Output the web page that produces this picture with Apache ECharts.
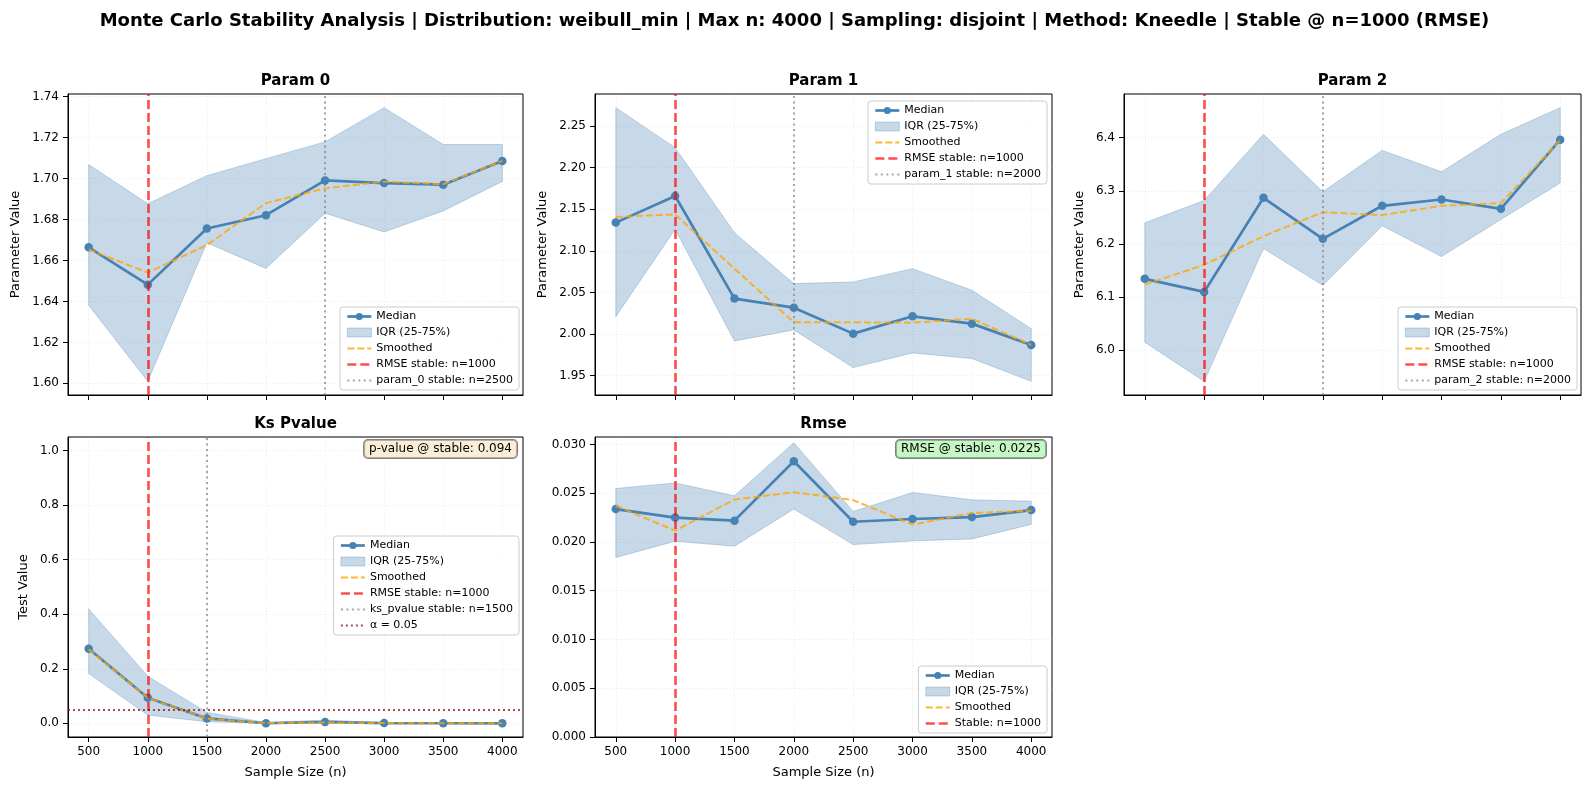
<!DOCTYPE html>
<html>
<head>
<meta charset="utf-8">
<title>Monte Carlo Stability Analysis</title>
<script src="https://cdn.jsdelivr.net/npm/echarts@6/dist/echarts.min.js"></script>
<style>
    html, body { margin: 0; padding: 0; background: #fff; }
    #chart { width: 1589px; height: 789px; }
</style>
</head>
<body>
<div id="chart"></div>
<script>
// x 轴
var sampleSizes = [500, 1000, 1500, 2000, 2500, 3000, 3500, 4000];
var xTicks = [500, 1000, 1500, 2000, 2500, 3000, 3500, 4000];

// Param 0
var p0Median = [1.6664, 1.6482, 1.6756, 1.6821, 1.6991, 1.6978, 1.6970, 1.7086];
var p0Smooth = [1.6654, 1.6541, 1.6675, 1.6880, 1.6952, 1.6985, 1.6973, 1.7086];
var p0Q1 = [1.6381, 1.6010, 1.6687, 1.6561, 1.6831, 1.6739, 1.6842, 1.6986];
var p0Q3 = [1.7068, 1.6877, 1.7014, 1.7097, 1.7179, 1.7346, 1.7166, 1.7166];
var p0Ticks = [1.60, 1.62, 1.64, 1.66, 1.68, 1.70, 1.72, 1.74];

// Param 1
var p1Median = [2.1339, 2.1659, 2.0426, 2.0317, 2.0005, 2.0213, 2.0125, 1.9869];
var p1Smooth = [2.1407, 2.1439, 2.0786, 2.0141, 2.0141, 2.0137, 2.0185, 1.9869];
var p1Q1 = [2.0209, 2.1259, 1.9917, 2.0049, 1.9597, 1.9773, 1.9705, 1.9432];
var p1Q3 = [2.2720, 2.2240, 2.1218, 2.0606, 2.0626, 2.0786, 2.0526, 2.0065];
var p1Ticks = [1.95, 2.00, 2.05, 2.10, 2.15, 2.20, 2.25];

// Param 2
var p2Median = [6.1340, 6.1094, 6.2868, 6.2094, 6.2717, 6.2836, 6.2660, 6.3962];
var p2Smooth = [6.1233, 6.1604, 6.2145, 6.2597, 6.2541, 6.2717, 6.2767, 6.3950];
var p2Q1 = [6.0145, 5.9409, 6.1912, 6.1220, 6.2340, 6.1761, 6.2459, 6.3145];
var p2Q3 = [6.2396, 6.2818, 6.4063, 6.2981, 6.3761, 6.3358, 6.4063, 6.4566];
var p2Ticks = [6.0, 6.1, 6.2, 6.3, 6.4];

// KS p-value
var ksMedian = [0.2737, 0.094, 0.0182, 0.0005, 0.0050, 0.0010, 0.0005, 0.0003];
var ksSmooth = [0.2713, 0.0937, 0.0172, 0.0012, 0.0030, 0.0010, 0.0004, 0.0003];
var ksQ1 = [0.1825, 0.0304, 0.0060, 0.0000, 0.0005, 0.0000, 0.0000, 0.0000];
var ksQ3 = [0.4197, 0.1727, 0.0401, 0.0036, 0.0120, 0.0024, 0.0012, 0.0010];
var ksTicks = [0.0, 0.2, 0.4, 0.6, 0.8, 1.0];

// RMSE
var rmseMedian = [0.02337, 0.0225, 0.02218, 0.02827, 0.02207, 0.02235, 0.02255, 0.02327];
var rmseSmooth = [0.02371, 0.02116, 0.02435, 0.02510, 0.02429, 0.02177, 0.02296, 0.02320];
var rmseQ1 = [0.01840, 0.02007, 0.01956, 0.02337, 0.01973, 0.02010, 0.02031, 0.02180];
var rmseQ3 = [0.02548, 0.02605, 0.02473, 0.03017, 0.02313, 0.02507, 0.02432, 0.02418];
var rmseTicks = [0.000, 0.005, 0.010, 0.015, 0.020, 0.025, 0.030];

// 稳定点
var rmseStable = 1000;
var paramStable = [2500, 2000, 2000];
var ksStable = 1500;
var alphaLevel = 0.05;

var FONT = 'DejaVu Sans';
var STEEL = '#4682b4';
var BAND = 'rgba(70,130,180,0.3)';
var NONE = 'rgba(0,0,0,0)';

var chart = echarts.init(document.getElementById('chart'));

function zip(xs, ys) {
    return xs.map(function (x, i) { return [x, ys[i]]; });
}

// matplotlib 风格的 5% 边距
function padRange(arrs) {
    var all = [].concat.apply([], arrs);
    var lo = Math.min.apply(null, all), hi = Math.max.apply(null, all);
    var m = (hi - lo) * 0.05;
    return [lo - m, hi + m];
}

var xMin = sampleSizes[0] - (sampleSizes[7] - sampleSizes[0]) * 0.05;
var xMax = sampleSizes[7] + (sampleSizes[7] - sampleSizes[0]) * 0.05;

var rmseTop = padRange([rmseMedian, rmseSmooth, rmseQ1, rmseQ3])[1];

var grids = [
    { left: 68, top: 94, width: 455, height: 301 },
    { left: 595, top: 94, width: 457, height: 301 },
    { left: 1124, top: 94, width: 457, height: 301 },
    { left: 68, top: 437, width: 455, height: 300 },
    { left: 595, top: 437, width: 457, height: 300 }
];

var panels = [
    {
        title: 'Param 0', median: p0Median, smooth: p0Smooth, q1: p0Q1, q3: p0Q3,
        ticks: p0Ticks, digits: 2, range: padRange([p0Median, p0Smooth, p0Q1, p0Q3]),
        yName: 'Parameter Value', nameGap: 46,
        rmseName: 'RMSE stable: n=' + rmseStable,
        stable: paramStable[0], stableName: 'param_0 stable: n=' + paramStable[0],
        legend: { right: 1070, bottom: 399 }
    },
    {
        title: 'Param 1', median: p1Median, smooth: p1Smooth, q1: p1Q1, q3: p1Q3,
        ticks: p1Ticks, digits: 2, range: padRange([p1Median, p1Smooth, p1Q1, p1Q3]),
        yName: 'Parameter Value', nameGap: 46,
        rmseName: 'RMSE stable: n=' + rmseStable,
        stable: paramStable[1], stableName: 'param_1 stable: n=' + paramStable[1],
        legend: { right: 542, top: 101 }
    },
    {
        title: 'Param 2', median: p2Median, smooth: p2Smooth, q1: p2Q1, q3: p2Q3,
        ticks: p2Ticks, digits: 1, range: padRange([p2Median, p2Smooth, p2Q1, p2Q3]),
        yName: 'Parameter Value', nameGap: 38,
        rmseName: 'RMSE stable: n=' + rmseStable,
        stable: paramStable[2], stableName: 'param_2 stable: n=' + paramStable[2],
        legend: { right: 12, bottom: 399 }
    },
    {
        title: 'Ks Pvalue', median: ksMedian, smooth: ksSmooth, q1: ksQ1, q3: ksQ3,
        ticks: ksTicks, digits: 1, range: [-0.05, 1.05],
        yName: 'Test Value', nameGap: 38,
        rmseName: 'RMSE stable: n=' + rmseStable,
        stable: ksStable, stableName: 'ks_pvalue stable: n=' + ksStable,
        alpha: alphaLevel,
        legend: { right: 1070, top: 536 }
    },
    {
        title: 'Rmse', median: rmseMedian, smooth: rmseSmooth, q1: rmseQ1, q3: rmseQ3,
        ticks: rmseTicks, digits: 3, range: [0, rmseTop],
        yName: '', nameGap: 40,
        rmseName: 'Stable: n=' + rmseStable,
        legend: { right: 542, bottom: 56 }
    }
];

var gridLine = { show: true, lineStyle: { color: '#b0b0b0', opacity: 0.3, width: 0.8, type: [1, 2] } };
var orangeLine = { color: 'rgba(255,165,0,0.8)', width: 2, type: [7, 3] };
var redLine = { color: 'rgba(255,0,0,0.7)', width: 2.6, type: [9, 4] };
var grayLine = { color: 'rgba(128,128,128,0.7)', width: 2, type: [2, 3.5] };
var alphaLine = { color: 'rgba(139,0,0,0.7)', width: 1.8, type: [2, 3] };

// IQR 区域, 用整条多边形画
function bandRender(params, api) {
    if (params.dataIndexInside !== 0) return null;
    var top = [], bottom = [];
    for (var j = 0; j < params.dataInsideLength; j++) {
        top.push(api.coord([api.value(0, j), api.value(2, j)]));
        bottom.push(api.coord([api.value(0, j), api.value(1, j)]));
    }
    return {
        type: 'polygon',
        shape: { points: top.concat(bottom.reverse()) },
        style: { fill: BAND, stroke: BAND, lineWidth: 1 }
    };
}

function vline(name, idx, value, style, horizontal) {
    var point = horizontal ? { yAxis: value } : { xAxis: value };
    return {
        name: name, type: 'line', xAxisIndex: idx, yAxisIndex: idx, data: [],
        symbol: 'none', lineStyle: style, itemStyle: { color: style.color }, z: 5,
        markLine: {
            silent: true, symbol: ['none', 'none'], label: { show: false },
            lineStyle: style, data: [point], animation: false
        }
    };
}

var xAxes = [], yAxes = [], series = [], legends = [], graphics = [];

panels.forEach(function (p, i) {
    var g = grids[i];
    var bottomRow = i >= 3;

    xAxes.push({
        type: 'value', gridIndex: i, min: xMin, max: xMax,
        axisLine: { show: true, onZero: false, lineStyle: { color: '#000', width: 1 } },
        axisTick: { show: true, length: 5, customValues: xTicks, lineStyle: { color: '#000' } },
        axisLabel: {
            show: bottomRow, customValues: xTicks, margin: 9,
            fontFamily: FONT, fontSize: 12, color: '#000',
            formatter: function (v) { return String(v); }
        },
        splitLine: gridLine,
        name: bottomRow ? 'Sample Size (n)' : '', nameLocation: 'middle', nameGap: 29,
        nameTextStyle: { fontFamily: FONT, fontSize: 13, color: '#000' }
    });

    yAxes.push({
        type: 'value', gridIndex: i, min: p.range[0], max: p.range[1],
        axisLine: { show: true, onZero: false, lineStyle: { color: '#000', width: 1 } },
        axisTick: { show: true, length: 5, customValues: p.ticks, lineStyle: { color: '#000' } },
        axisLabel: {
            customValues: p.ticks, margin: 9,
            fontFamily: FONT, fontSize: 12, color: '#000',
            formatter: (function (d) { return function (v) { return v.toFixed(d); }; })(p.digits)
        },
        splitLine: gridLine,
        name: p.yName, nameLocation: 'middle', nameGap: p.nameGap,
        nameTextStyle: { fontFamily: FONT, fontSize: 13, color: '#000' }
    });

    series.push({
        name: 'IQR (25-75%)', type: 'custom', xAxisIndex: i, yAxisIndex: i,
        data: sampleSizes.map(function (x, k) { return [x, p.q1[k], p.q3[k]]; }),
        encode: { x: 0, y: [1, 2] }, renderItem: bandRender,
        itemStyle: { color: BAND }, z: 1
    });
    series.push({
        name: 'Median', type: 'line', xAxisIndex: i, yAxisIndex: i,
        data: zip(sampleSizes, p.median), symbol: 'circle', symbolSize: 8.5,
        lineStyle: { color: STEEL, width: 2.7 }, itemStyle: { color: STEEL }, z: 3
    });
    series.push({
        name: 'Smoothed', type: 'line', xAxisIndex: i, yAxisIndex: i,
        data: zip(sampleSizes, p.smooth), symbol: 'none',
        lineStyle: orangeLine, itemStyle: { color: orangeLine.color }, z: 4
    });
    series.push(vline(p.rmseName, i, rmseStable, redLine));

    var items = [
        { name: 'Median', itemStyle: { color: STEEL }, lineStyle: { width: 2.7 } },
        { name: 'IQR (25-75%)', icon: 'rect', itemStyle: { color: BAND, borderColor: BAND, borderWidth: 1 } },
        { name: 'Smoothed', style: orangeLine },
        { name: p.rmseName, style: redLine }
    ];
    if (p.stable) {
        series.push(vline(p.stableName, i, p.stable, grayLine));
        items.push({ name: p.stableName, style: grayLine });
    }
    if (p.alpha) {
        var an = '\u03b1 = ' + p.alpha;
        series.push(vline(an, i, p.alpha, alphaLine, true));
        items.push({ name: an, style: alphaLine });
    }

    legends.push(Object.assign({
        orient: 'vertical', itemWidth: 24, itemHeight: 9, itemGap: 3,
        padding: [3, 6, 3, 6], selectedMode: false,
        backgroundColor: 'rgba(255,255,255,0.8)', borderColor: '#cccccc', borderWidth: 1, borderRadius: 3,
        textStyle: { fontFamily: FONT, fontSize: 11, color: '#000', lineHeight: 13 },
        data: items.map(function (it) {
            if (!it.style) return it;
            // 只画线, 不画点
            return {
                name: it.name,
                lineStyle: { color: it.style.color, width: it.style.width, type: it.style.type },
                itemStyle: { color: NONE, borderColor: NONE, borderWidth: 0 }
            };
        })
    }, p.legend));

    graphics.push({
        type: 'text', x: g.left + g.width / 2, y: g.top - 13, silent: true,
        style: {
            text: p.title, font: 'bold 15px "' + FONT + '"', fill: '#000',
            align: 'center', verticalAlign: 'middle'
        }
    });
});

// 右上角的数值标注
graphics.push({
    type: 'text', x: 517, y: 449, silent: true,
    style: {
        text: 'p-value @ stable: ' + ksMedian[sampleSizes.indexOf(rmseStable)].toFixed(3),
        font: '12px "' + FONT + '"', fill: '#000', align: 'right', verticalAlign: 'middle',
        backgroundColor: 'rgba(245,222,179,0.5)', borderColor: 'rgba(0,0,0,0.5)',
        borderWidth: 1, borderRadius: 4, padding: [3, 5]
    }
});
graphics.push({
    type: 'text', x: 1046, y: 449, silent: true,
    style: {
        text: 'RMSE @ stable: ' + rmseMedian[sampleSizes.indexOf(rmseStable)].toFixed(4),
        font: '12px "' + FONT + '"', fill: '#000', align: 'right', verticalAlign: 'middle',
        backgroundColor: 'rgba(144,238,144,0.5)', borderColor: 'rgba(0,0,0,0.5)',
        borderWidth: 1, borderRadius: 4, padding: [3, 5]
    }
});

var option = {
    animation: false,
    backgroundColor: '#fff',
    title: {
        text: 'Monte Carlo Stability Analysis | Distribution: weibull_min | Max n: 4000 | Sampling: disjoint | Method: Kneedle | Stable @ n=' + rmseStable + ' (RMSE)',
        left: 'center', top: 7,
        textStyle: { fontFamily: FONT, fontSize: 18, fontWeight: 'bold', color: '#000' }
    },
    grid: grids.map(function (g) {
        return Object.assign({ show: true, borderColor: '#000', borderWidth: 1, containLabel: false }, g);
    }),
    xAxis: xAxes,
    yAxis: yAxes,
    legend: legends,
    series: series,
    graphic: graphics
};

chart.setOption(option);
</script>
</body>
</html>
